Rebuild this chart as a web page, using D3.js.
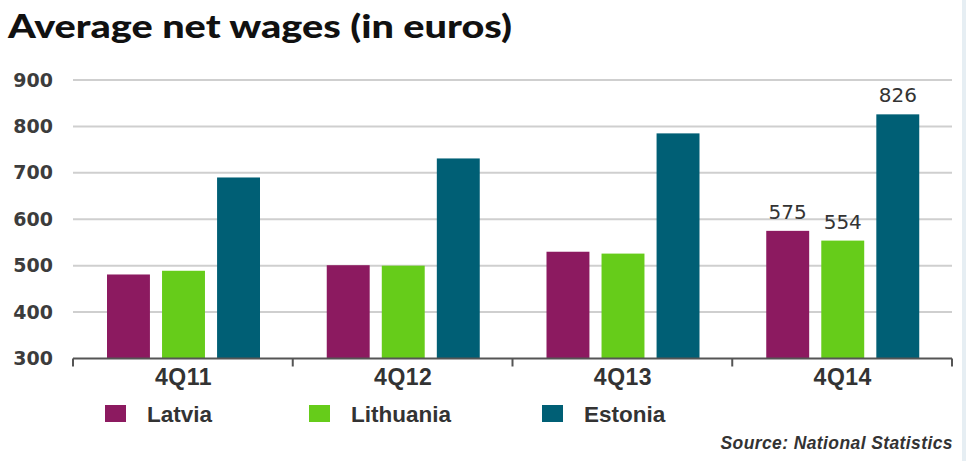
<!DOCTYPE html>
<html>
<head>
<meta charset="utf-8">
<script src="https://cdn.jsdelivr.net/npm/d3@7"></script>
<style>
  html, body { margin: 0; padding: 0; background: #fff; }
  svg { display: block; }
</style>
</head>
<body>
<svg id="chart" width="966" height="461"></svg>
<script>
// Quarterly average net wages, euros
const quarters = ["4Q11", "4Q12", "4Q13", "4Q14"];
const countries = ["Latvia", "Lithuania", "Estonia"];
const latvia = [481, 501, 530, 575];
const lithuania = [489, 500, 526, 554];
const estonia = [690, 731, 785, 826];
const yTicks = [300, 400, 500, 600, 700, 800, 900];
const labelledQuarter = "4Q14";
const colors = ["#8c1a60", "#66cc1a", "#005f75"];

const seriesValues = [latvia, lithuania, estonia];
const rows = quarters.map((q, i) => ({
  quarter: q,
  values: countries.map((c, j) => ({ country: c, value: seriesValues[j][i], color: colors[j] }))
}));

const svg = d3.select("#chart");
const W = 966, H = 461;
const plotLeft = 73, plotRight = 952, plotTop = 80, plotBottom = 358.5;

// thin pale strip along the right edge
svg.append("rect").attr("x", 962).attr("y", 0).attr("width", 4).attr("height", H).attr("fill", "#e6eef3");

// title
svg.append("text")
  .attr("x", 8).attr("y", 38)
  .attr("font-family", "Lato, Roboto, sans-serif")
  .attr("font-weight", 900)
  .attr("font-size", 33)
  .attr("fill", "#111")
  .attr("textLength", 504)
  .attr("lengthAdjust", "spacingAndGlyphs")
  .text("Average net wages (in euros)");

const y = d3.scaleLinear().domain([300, 900]).range([plotBottom, plotTop]);
const x0 = d3.scaleBand().domain(quarters).range([plotLeft, plotRight]).padding(0);
const inner0 = 34, inner1 = 187;
const x1 = d3.scaleBand().domain(countries).range([inner0, inner1]).paddingInner(0.22).paddingOuter(0);

// horizontal gridlines
const grid = svg.append("g");
grid.selectAll("line").data(yTicks.filter(t => t > 300)).join("line")
  .attr("x1", plotLeft).attr("x2", plotRight)
  .attr("y1", d => y(d)).attr("y2", d => y(d))
  .attr("stroke", "#cfcfcf").attr("stroke-width", 2);

// y axis labels
const yAxis = svg.append("g")
  .attr("transform", `translate(${plotLeft},0)`)
  .call(d3.axisLeft(y).tickValues(yTicks).tickSize(0).tickPadding(20).tickFormat(d3.format("d")));
yAxis.select(".domain").remove();
yAxis.selectAll("text")
  .attr("font-family", "DejaVu Sans, sans-serif")
  .attr("font-weight", "bold")
  .attr("font-size", 19)
  .attr("fill", "#3c3c3c");

// bars
const groups = svg.append("g").selectAll("g").data(rows).join("g")
  .attr("transform", d => `translate(${x0(d.quarter)},0)`);
groups.selectAll("rect").data(d => d.values).join("rect")
  .attr("x", d => x1(d.country))
  .attr("width", x1.bandwidth())
  .attr("y", d => y(d.value))
  .attr("height", d => y(300) - y(d.value))
  .attr("fill", d => d.color);

// value labels on the latest quarter
groups.filter(d => d.quarter === labelledQuarter)
  .selectAll("text.val").data(d => d.values).join("text")
  .attr("class", "val")
  .attr("x", d => x1(d.country) + x1.bandwidth() / 2)
  .attr("y", d => y(d.value) - 12)
  .attr("text-anchor", "middle")
  .attr("font-family", "DejaVu Sans, sans-serif")
  .attr("font-size", 20)
  .attr("fill", "#333")
  .text(d => d.value);

// x axis: baseline with downward ticks at group boundaries
const xAxis = svg.append("g").attr("transform", `translate(0,${plotBottom})`);
xAxis.append("line").attr("x1", plotLeft).attr("x2", plotRight).attr("y1", 0).attr("y2", 0)
  .attr("stroke", "#555").attr("stroke-width", 2);
const bounds = quarters.map(q => x0(q)).concat([plotRight]);
xAxis.selectAll("line.tick").data(bounds).join("line")
  .attr("class", "tick")
  .attr("x1", d => d).attr("x2", d => d)
  .attr("y1", 0).attr("y2", 8)
  .attr("stroke", "#555").attr("stroke-width", 2);
xAxis.selectAll("text").data(quarters).join("text")
  .attr("x", d => x0(d) + inner0 + (inner1 - inner0) / 2)
  .attr("y", 26)
  .attr("text-anchor", "middle")
  .attr("font-family", "Liberation Sans, Arial, sans-serif")
  .attr("font-weight", "bold")
  .attr("font-size", 23)
  .attr("letter-spacing", 0.5)
  .attr("fill", "#333")
  .text(d => d);

// legend
const legendX = [105, 309, 542];
const legend = svg.append("g").selectAll("g").data(countries).join("g")
  .attr("transform", (d, i) => `translate(${legendX[i]},405)`);
legend.append("rect").attr("width", 21).attr("height", 17).attr("fill", (d, i) => colors[i]);
legend.append("text")
  .attr("x", 42).attr("y", 17)
  .attr("font-family", "Liberation Sans, Arial, sans-serif")
  .attr("font-weight", "bold")
  .attr("font-size", 22.5)
  .attr("fill", "#333")
  .text(d => d);

// source note
svg.append("text")
  .attr("x", 953).attr("y", 449)
  .attr("text-anchor", "end")
  .attr("font-family", "Liberation Sans, Arial, sans-serif")
  .attr("font-weight", "bold")
  .attr("font-style", "italic")
  .attr("font-size", 17.5)
  .attr("letter-spacing", 0.4)
  .attr("fill", "#333")
  .text("Source: National Statistics");
</script>
</body>
</html>
